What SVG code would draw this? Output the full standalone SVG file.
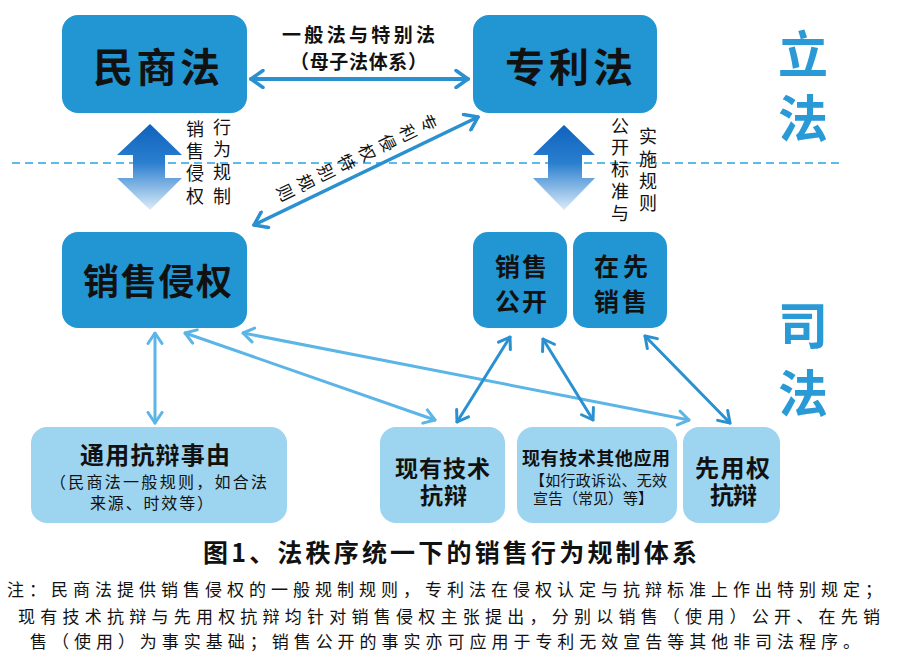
<svg xmlns="http://www.w3.org/2000/svg" width="900" height="663" viewBox="0 0 900 663">
<defs>
<style>
.t{font-family:"Noto Sans CJK SC","Noto Sans",sans-serif;fill:#111}
.b{font-weight:bold}
.dark{fill:#2196d3}
.light{fill:#9dd4ef}
.big{font-family:"Noto Sans CJK SC","Noto Sans",sans-serif;font-weight:bold;fill:#2a9ad6;font-size:50px}
.cd{fill:none;stroke:#2a90d0;stroke-linecap:round}
.cl{fill:none;stroke:#5bb5e6;stroke-linecap:round}
</style>
<linearGradient id="g" x1="0" y1="0" x2="0" y2="1">
<stop offset="0" stop-color="#0e62bd"/>
<stop offset="0.45" stop-color="#2b7fcf"/>
<stop offset="1" stop-color="#dcecf9"/>
</linearGradient>
<marker id="md" viewBox="0 0 16 20" refX="14" refY="10" markerWidth="16" markerHeight="20" markerUnits="userSpaceOnUse" orient="auto-start-reverse">
<path d="M2,1.5 L14,10 L2,18.5" fill="none" stroke="#2a90d0" stroke-width="3.5" stroke-linecap="round" stroke-linejoin="round"/>
</marker>
<marker id="mb" viewBox="0 0 14 18" refX="12.5" refY="9" markerWidth="14" markerHeight="18" markerUnits="userSpaceOnUse" orient="auto-start-reverse">
<path d="M2,2 L12.5,9 L2,16" fill="none" stroke="#2a90d0" stroke-width="3" stroke-linecap="round" stroke-linejoin="round"/>
</marker>
<marker id="ml" viewBox="0 0 14 18" refX="12.5" refY="9" markerWidth="14" markerHeight="18" markerUnits="userSpaceOnUse" orient="auto-start-reverse">
<path d="M2,2 L12.5,9 L2,16" fill="none" stroke="#5bb5e6" stroke-width="3" stroke-linecap="round" stroke-linejoin="round"/>
</marker>
</defs>
<rect width="900" height="663" fill="#fff"/>

<!-- divider -->
<line x1="12" y1="163" x2="843" y2="163" stroke="#5cbbe9" stroke-width="2" stroke-dasharray="8 5"/>

<!-- big side labels -->
<g id="lifa">
<text class="big" text-anchor="middle"><tspan x="803" y="73">立</tspan><tspan x="803" y="137">法</tspan></text>
</g>
<g id="sifa">
<text class="big" text-anchor="middle"><tspan x="803" y="344">司</tspan><tspan x="803" y="412">法</tspan></text>
</g>

<!-- gradient double arrows -->
<g id="garrow-left">
<path d="M150,124 L182,155 L165,155 L165,178 L182,178 L150,210 L117,178 L133,178 L133,155 L117,155 Z" fill="url(#g)"/>
<text class="t" font-size="18"><tspan x="186" y="136">销</tspan><tspan x="186" y="158">售</tspan><tspan x="186" y="180">侵</tspan><tspan x="186" y="203">权</tspan></text>
<text class="t" font-size="18"><tspan x="213" y="134">行</tspan><tspan x="213" y="156">为</tspan><tspan x="213" y="179">规</tspan><tspan x="213" y="203">制</tspan></text>
</g>
<g id="garrow-right">
<path d="M564,125 L595,155 L582,155 L582,178 L595,178 L564,210 L533,178 L548,178 L548,155 L533,155 Z" fill="url(#g)"/>
<text class="t" font-size="18"><tspan x="611" y="133">公</tspan><tspan x="611" y="154">开</tspan><tspan x="611" y="176">标</tspan><tspan x="611" y="198">准</tspan><tspan x="611" y="220">与</tspan></text>
<text class="t" font-size="18"><tspan x="639" y="143">实</tspan><tspan x="639" y="166">施</tspan><tspan x="639" y="188">规</tspan><tspan x="639" y="210">则</tspan></text>
</g>

<!-- nodes -->
<g id="minshangfa">
<rect class="dark" x="62" y="15" width="185" height="98" rx="16"/>
<text class="t b" x="93" y="82" font-size="40" textLength="127" lengthAdjust="spacing">民商法</text>
</g>
<g id="zhuanlifa">
<rect class="dark" x="473" y="15" width="184" height="98" rx="16"/>
<text class="t b" x="505" y="82" font-size="40" textLength="128" lengthAdjust="spacing">专利法</text>
</g>
<g id="xiaoshouqinquan">
<rect class="dark" x="62" y="232" width="185" height="96" rx="16"/>
<text class="t b" x="83" y="295" font-size="36" textLength="149" lengthAdjust="spacing">销售侵权</text>
</g>
<g id="xiaoshougongkai">
<rect class="dark" x="473" y="232" width="94" height="96" rx="15"/>
<text class="t b" font-size="25"><tspan x="495" y="276" textLength="52" lengthAdjust="spacing">销售</tspan><tspan x="495" y="311" textLength="52" lengthAdjust="spacing">公开</tspan></text>
</g>
<g id="zaixianxiaoshou">
<rect class="dark" x="573" y="232" width="94" height="96" rx="15"/>
<text class="t b" font-size="25"><tspan x="594" y="276" textLength="54" lengthAdjust="spacing">在先</tspan><tspan x="594" y="311" textLength="53" lengthAdjust="spacing">销售</tspan></text>
</g>
<g id="tongyong">
<rect class="light" x="31" y="427" width="256" height="96" rx="16"/>
<text class="t b" x="80" y="464" font-size="24" textLength="150" lengthAdjust="spacing">通用抗辩事由</text>
<text class="t" font-size="16"><tspan x="50" y="488" textLength="217" lengthAdjust="spacing">（民商法一般规则，如合法</tspan><tspan x="90" y="509" textLength="123" lengthAdjust="spacing">来源、时效等）</tspan></text>
</g>
<g id="xianyoujishu">
<rect class="light" x="380" y="427" width="125" height="96" rx="16"/>
<text class="t b" font-size="23"><tspan x="395" y="477" textLength="95" lengthAdjust="spacing">现有技术</tspan><tspan x="420" y="504" textLength="47" lengthAdjust="spacing">抗辩</tspan></text>
</g>
<g id="qitayingyong">
<rect class="light" x="517" y="427" width="160" height="96" rx="16"/>
<text class="t b" x="522" y="465" font-size="18" textLength="148" lengthAdjust="spacing">现有技术其他应用</text>
<text class="t" font-size="15"><tspan x="530" y="486" textLength="137" lengthAdjust="spacing">【如行政诉讼、无效</tspan><tspan x="533" y="504" textLength="120" lengthAdjust="spacing">宣告（常见）等】</tspan></text>
</g>
<g id="xianyongquan">
<rect class="light" x="683" y="427" width="97" height="96" rx="16"/>
<text class="t b" font-size="24"><tspan x="695" y="477" textLength="75" lengthAdjust="spacing">先用权</tspan><tspan x="710" y="504" textLength="47" lengthAdjust="spacing">抗辩</tspan></text>
</g>

<!-- connectors -->
<g id="connectors">
<line class="cd" x1="251" y1="79" x2="468" y2="79" stroke-width="4" marker-start="url(#md)" marker-end="url(#md)"/>
<line class="cd" x1="478" y1="117" x2="254" y2="225" stroke-width="3.5" marker-start="url(#md)" marker-end="url(#md)"/>
<line class="cl" x1="155" y1="333" x2="155" y2="423" stroke-width="3" marker-start="url(#ml)" marker-end="url(#ml)"/>
<line class="cl" x1="185" y1="333" x2="435" y2="420" stroke-width="3" marker-start="url(#ml)" marker-end="url(#ml)"/>
<line class="cl" x1="243" y1="333" x2="689" y2="420" stroke-width="3" marker-start="url(#ml)" marker-end="url(#ml)"/>
<line class="cd" x1="510" y1="337" x2="457" y2="422" stroke-width="3" marker-start="url(#mb)" marker-end="url(#mb)"/>
<line class="cd" x1="543" y1="339" x2="593" y2="420" stroke-width="3" marker-start="url(#mb)" marker-end="url(#mb)"/>
<line class="cd" x1="645" y1="336" x2="730" y2="423" stroke-width="3" marker-start="url(#mb)" marker-end="url(#mb)"/>
</g>

<!-- connector labels -->
<g id="labels">
<text class="t b" font-size="19"><tspan x="282" y="42" textLength="153" lengthAdjust="spacing">一般法与特别法</tspan><tspan x="290" y="69" textLength="137" lengthAdjust="spacing">（母子法体系）</tspan></text>
<g transform="translate(428,123) rotate(64)">
<text class="t" font-size="17" text-anchor="middle"><tspan x="0" y="6">专</tspan><tspan x="0" y="28.7">利</tspan><tspan x="0" y="51.4">侵</tspan><tspan x="0" y="74.1">权</tspan><tspan x="0" y="96.8">特</tspan><tspan x="0" y="119.5">别</tspan><tspan x="0" y="142.2">规</tspan><tspan x="0" y="164.9">则</tspan></text>
</g>
</g>

<!-- caption and note -->
<g id="caption">
<text class="t b" x="203" y="562" font-size="25" textLength="494" lengthAdjust="spacing">图1、法秩序统一下的销售行为规制体系</text>
<text class="t" font-size="17"><tspan x="7" y="596" textLength="875" lengthAdjust="spacing">注：民商法提供销售侵权的一般规制规则，专利法在侵权认定与抗辩标准上作出特别规定；</tspan><tspan x="18" y="623" textLength="862" lengthAdjust="spacing">现有技术抗辩与先用权抗辩均针对销售侵权主张提出，分别以销售（使用）公开、在先销</tspan><tspan x="30" y="648" textLength="830" lengthAdjust="spacing">售（使用）为事实基础；销售公开的事实亦可应用于专利无效宣告等其他非司法程序。</tspan></text>
</g>
</svg>
